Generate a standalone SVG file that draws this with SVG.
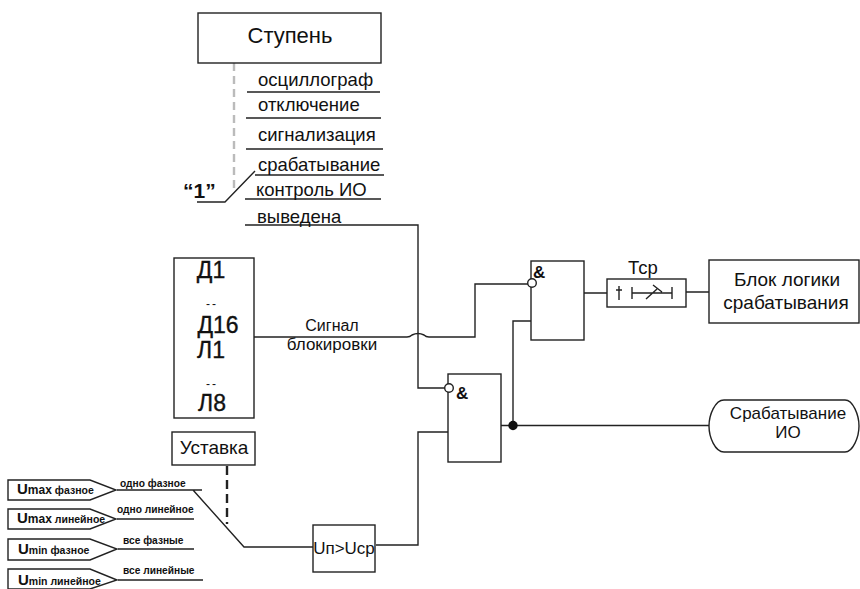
<svg xmlns="http://www.w3.org/2000/svg" width="860" height="589" viewBox="0 0 860 589">
<style>
text{font-family:"Liberation Sans",Arial,sans-serif;fill:#111}
.b{fill:#fff;stroke:#222;stroke-width:1.4}
.l{fill:none;stroke:#222;stroke-width:1.4}
.c{fill:#fff;stroke:#222;stroke-width:1.4}
.m{text-anchor:middle}
.t{font-size:18.5px}
.d{font-size:23px;stroke:#111;stroke-width:.35}
.h{font-size:12px;letter-spacing:2px}
.u{font-size:15px;font-weight:bold}
.x{font-size:12px;font-weight:bold}
.n{font-size:10.5px;font-weight:bold}
.v{font-size:10.5px;font-weight:bold}
.w{font-size:10.2px;font-weight:bold}
</style>
<rect width="860" height="589" fill="#fff"/>
<g id="connectors">
<path d="M234 63V190" fill="none" stroke="#bbb" stroke-width="2.4" stroke-dasharray="8 5"/>
<path class="l" d="M247 92H380M246 118H381M246 149H383M255 175H384M245 199H381"/>
<path class="l" d="M197 202H225L255 171"/>
<path class="l" d="M245 225H418V388H449"/>
<path class="l" d="M254 337H407Q410 337 412 335Q418 332 424 335Q426 337 429 337H475V284H528"/>
<path class="l" d="M376 545H418V432H448"/>
<path class="l" d="M501 425.5H709"/>
<path class="l" d="M513 425V321H531"/>
<path class="l" d="M584 293H607M686 292H709"/>
<path class="l" d="M117 490H202M193 490L244 547H313"/>
<path class="l" d="M117 519H194M118 549H194M118 580H203"/>
<path d="M227 466V524" fill="none" stroke="#222" stroke-width="2.4" stroke-dasharray="9 5"/>
</g>
<g id="node-stage"><rect class="b" x="198" y="13" width="183" height="50"/><text class="m" x="290" y="43" font-size="22">Ступень</text></g>
<g id="label-1"><text x="183" y="198" font-size="21" font-weight="bold">“1”</text></g>
<g id="options">
<text class="t" x="258" y="86">осциллограф</text>
<text class="t" x="258" y="111">отключение</text>
<text class="t" x="258" y="141">сигнализация</text>
<text class="t" x="258" y="171">срабатывание</text>
<text class="t" x="256" y="196">контроль ИО</text>
<text class="t" x="257" y="223">выведена</text>
</g>
<g id="node-inputs"><rect class="b" x="174" y="258" width="80" height="160"/>
<text class="m d" x="211" y="278">Д1</text><text class="m h" x="212" y="308">--</text><text class="m d" x="218" y="333">Д16</text><text class="m d" x="211" y="358">Л1</text><text class="m h" x="212" y="388">--</text><text class="m d" x="212" y="411">Л8</text></g>
<g id="label-block"><text class="m" x="332" y="331" font-size="16">Сигнал</text><text class="m" x="332" y="350" font-size="17">блокировки</text></g>
<g id="node-and1"><rect class="b" x="531" y="261" width="53" height="79"/><circle class="c" cx="532" cy="283" r="4.3"/><text x="533" y="278" font-size="17" font-weight="bold">&amp;</text></g>
<g id="node-and2"><rect class="b" x="448" y="374" width="53" height="88"/><circle class="c" cx="449" cy="388" r="4.3"/><text x="456" y="399" font-size="17" font-weight="bold">&amp;</text></g>
<g id="node-timer"><rect class="b" x="607" y="279" width="79" height="28"/>
<path class="l" d="M619 286V300M616 290H622M632 287V299M632 293H672M672 287V299M646 299L657 289M653 285L662 292"/>
<text class="m" x="643" y="274" font-size="18.5">Тср</text></g>
<g id="node-logic"><rect class="b" x="709" y="260" width="150" height="63"/><text class="m" x="787" y="286" font-size="19">Блок логики</text><text class="m" x="786" y="309" font-size="19">срабатывания</text></g>
<g id="node-trip"><path class="b" d="M724 400H845C853 400 859 415 859 426C859 437 853 452 845 452H724C715 452 709 437 709 426C709 415 715 400 724 400Z"/><text class="m" x="788" y="419" font-size="17">Срабатывание</text><text class="m" x="788" y="438" font-size="17">ИО</text></g>
<g id="node-junction"><circle cx="513" cy="425.5" r="4.7" fill="#111"/></g>
<g id="node-setpoint"><rect class="b" x="172" y="432" width="83" height="33"/><text class="m" x="214" y="454" font-size="19">Уставка</text></g>
<g id="node-cmp"><rect class="b" x="313" y="525" width="62" height="47"/><text class="m" x="344" y="554" font-size="17">Uп&gt;Uср</text></g>
<g id="node-umax-ph"><path class="b" d="M8 480H90L116 490L90 500H8Z"/><text x="17" y="494"><tspan class="u">U</tspan><tspan class="x">max</tspan><tspan class="v"> фазное</tspan></text></g>
<g id="node-umax-lin"><path class="b" d="M8 509H90L116 519L90 529H8Z"/><text x="17" y="523"><tspan class="u">U</tspan><tspan class="x">max</tspan><tspan class="v"> линейное</tspan></text></g>
<g id="node-umin-ph"><path class="b" d="M8 539H90L117 549L90 560H8Z"/><text x="18" y="554"><tspan class="u">U</tspan><tspan class="n">min</tspan><tspan class="v"> фазное</tspan></text></g>
<g id="node-umin-lin"><path class="b" d="M8 569H90L117 580L90 589H8Z"/><text x="18" y="585"><tspan class="u">U</tspan><tspan class="n">min</tspan><tspan class="v"> линейное</tspan></text></g>
<g id="mode-labels">
<text class="w" x="120" y="487">одно фазное</text>
<text class="w" x="117" y="513">одно линейное</text>
<text class="w" x="123" y="544">все фазные</text>
<text class="w" x="123" y="574">все линейные</text>
</g>
</svg>
